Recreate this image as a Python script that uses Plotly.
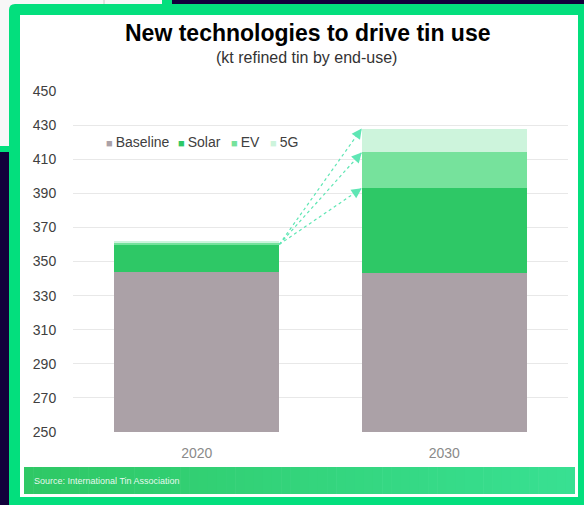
import plotly.graph_objects as go

# ---- data ----
years = ["2020", "2030"]
baseline = [344, 343]
solar = [16, 50]
ev = [1, 21]
g5 = [1, 14]
series_names = ["Baseline", "Solar", "EV", "5G"]
y_ticks = [250, 270, 290, 310, 330, 350, 370, 390, 410, 430, 450]

# ---- style ----
COLORS = ["#aba1a7", "#2ec866", "#76e29c", "#cdf4dc"]
ARROW = "#5fe6b4"
NAVY = "#12003b"
GREEN = "#03df7d"
FONT = "Liberation Sans, Arial, sans-serif"
BARGAP = 1 / 3

W, H = 584, 505
ML, MR, MT, MB = 73, 16, 91, 73
PW, PH = W - ML - MR, H - MT - MB


def px(x):
    return (x - ML) / PW


def py(y):
    return (H - MB - y) / PH


fig = go.Figure()
for name, vals, col in zip(series_names, [baseline, solar, ev, g5], COLORS):
    fig.add_trace(go.Bar(x=years, y=vals, name=name, marker_color=col,
                         marker_line_width=0, showlegend=False))

shapes = []


def rect(x0, y0, x1, y1, color):
    shapes.append(dict(type="rect", xref="paper", yref="paper", layer="below",
                       x0=px(x0), x1=px(x1), y0=py(y1), y1=py(y0),
                       fillcolor=color, line_width=0))


# background card top-left
rect(-30, -30, 172, 152, GREEN)
rect(-30, -30, 162, 146, "#f7f7f7")
shapes.append(dict(type="line", xref="paper", yref="paper", layer="below",
                   x0=px(104), x1=px(104), y0=py(-10), y1=py(20),
                   line=dict(color="#c8c8c8", width=1)))
# main green frame with rounded corner
r = 6
path = (f"M {px(9)},{py(4 + r)} Q {px(9)},{py(4)} {px(9 + r)},{py(4)} "
        f"L {px(620)},{py(4)} L {px(620)},{py(540)} L {px(9)},{py(540)} Z")
shapes.append(dict(type="path", xref="paper", yref="paper", layer="below",
                   path=path, fillcolor=GREEN, line_width=0))
rect(20, 15, 578, 497, "#ffffff")

# footer gradient bar
c0 = (47, 200, 101)
c1 = (56, 224, 146)
N = 60
fx0, fx1, fy0, fy1 = 24, 575, 467, 494
for i in range(N):
    t = i / (N - 1)
    c = tuple(round(a + (b - a) * t) for a, b in zip(c0, c1))
    xa = fx0 + (fx1 - fx0) * i / N
    xb = fx0 + (fx1 - fx0) * (i + 1) / N + 0.6
    rect(xa, fy0, min(xb, fx1), fy1, "rgb(%d,%d,%d)" % c)

# arrows from 2020 bar to 2030 stack tops
half = (1 - BARGAP) / 2
start_x = 0 + half
end_x = 1 - half
start_y = baseline[0] + solar[0]
tops_2030 = [baseline[1] + solar[1],
             baseline[1] + solar[1] + ev[1],
             baseline[1] + solar[1] + ev[1] + g5[1]]
annotations = []
for ty in tops_2030:
    shapes.append(dict(type="line", xref="x", yref="y",
                       x0=start_x, y0=start_y, x1=end_x, y1=ty,
                       line=dict(color=ARROW, width=1.2, dash="dot")))
    f = 0.07
    annotations.append(dict(x=end_x, y=ty, xref="x", yref="y",
                            ax=end_x - f * (end_x - start_x),
                            ay=ty - f * (ty - start_y),
                            axref="x", ayref="y", text="", showarrow=True,
                            arrowhead=2, arrowsize=1.7, arrowwidth=1.2,
                            arrowcolor=ARROW, standoff=0))

# titles
annotations.append(dict(text="<b>New technologies to drive tin use</b>",
                        xref="paper", yref="paper", x=px(308), y=py(33),
                        xanchor="center", yanchor="middle", showarrow=False,
                        font=dict(family=FONT, size=23, color="#000000")))
annotations.append(dict(text="(kt refined tin by end-use)",
                        xref="paper", yref="paper", x=px(306), y=py(57),
                        xanchor="center", yanchor="middle", showarrow=False,
                        font=dict(family=FONT, size=16, color="#333333")))
# legend (manual)
leg_x = [104, 176, 229, 268]
for name, col, lx in zip(series_names, COLORS, leg_x):
    annotations.append(dict(
        text=f"<span style='color:{col};font-size:11px'>■ </span>{name}",
        xref="paper", yref="paper", x=px(lx), y=py(142),
        xanchor="left", yanchor="middle", showarrow=False,
        font=dict(family=FONT, size=14, color="#404040")))
# source
annotations.append(dict(text="Source: International Tin Association",
                        xref="paper", yref="paper", x=px(32), y=py(480.5),
                        xanchor="left", yanchor="middle", showarrow=False,
                        font=dict(family=FONT, size=9,
                                  color="rgba(255,255,255,0.9)")))

fig.update_layout(
    width=W, height=H,
    margin=dict(l=ML, r=MR, t=MT, b=MB, pad=0),
    barmode="stack", bargap=BARGAP,
    paper_bgcolor=NAVY, plot_bgcolor="rgba(0,0,0,0)",
    font=dict(family=FONT),
    shapes=shapes, annotations=annotations,
    xaxis=dict(type="category", showgrid=False, zeroline=False,
               showline=False, ticks="outside", ticklen=8,
               tickcolor="rgba(0,0,0,0)",
               tickfont=dict(family=FONT, size=14, color="#8a8a8a")),
    yaxis=dict(range=[250, 450], tickvals=y_ticks, showgrid=True,
               gridcolor="#e8e8e8", gridwidth=1, zeroline=False,
               showline=False, ticks="outside", ticklen=13,
               tickcolor="rgba(0,0,0,0)",
               tickfont=dict(family=FONT, size=14, color="#404040")),
)

fig.write_html("out.html")
